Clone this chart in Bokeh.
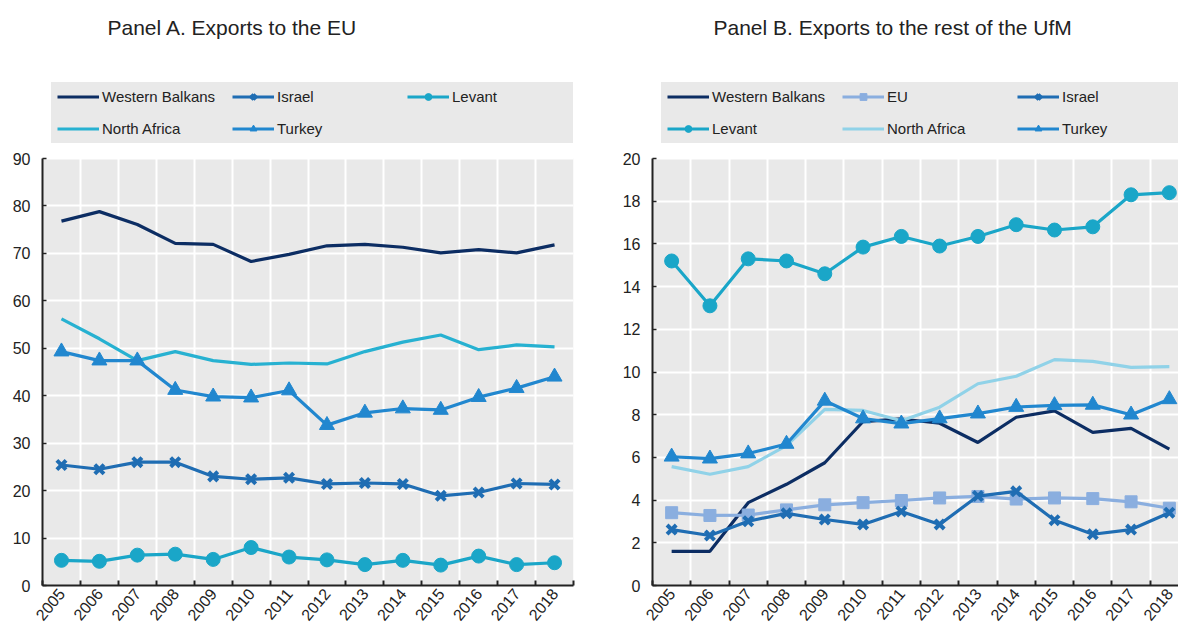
import math
from bokeh.plotting import figure
from bokeh.models import Range1d, FixedTicker, Legend, LegendItem, Label, BoxAnnotation
from bokeh.layouts import row
from bokeh.embed import file_html
from bokeh.resources import INLINE

years = list(range(2005, 2019))
year_labels = [str(y) for y in years]

# Panel A: exports to the EU
a_western_balkans = [76.8, 78.8, 76.1, 72.1, 71.9, 68.3, 69.8, 71.6, 71.9, 71.3, 70.1, 70.8, 70.1, 71.8]
a_israel = [25.4, 24.5, 26.0, 26.0, 23.0, 22.4, 22.7, 21.4, 21.6, 21.4, 18.9, 19.6, 21.5, 21.3]
a_levant = [5.3, 5.1, 6.4, 6.6, 5.5, 8.0, 6.0, 5.4, 4.4, 5.3, 4.3, 6.2, 4.4, 4.8]
a_north_africa = [56.2, 52.0, 47.4, 49.3, 47.4, 46.6, 46.9, 46.7, 49.3, 51.3, 52.8, 49.7, 50.7, 50.3]
a_turkey = [49.3, 47.4, 47.4, 41.2, 39.8, 39.6, 41.1, 33.8, 36.4, 37.3, 37.0, 39.7, 41.6, 44.0]

# Panel B: exports to the rest of the UfM
b_western_balkans = [1.6, 1.6, 3.88, 4.74, 5.75, 7.68, 7.8, 7.6, 6.7, 7.88, 8.18, 7.17, 7.36, 6.39]
b_eu = [3.41, 3.28, 3.3, 3.54, 3.78, 3.88, 3.98, 4.1, 4.17, 4.05, 4.1, 4.07, 3.92, 3.62]
b_israel = [2.62, 2.34, 3.01, 3.38, 3.09, 2.86, 3.47, 2.86, 4.19, 4.41, 3.06, 2.4, 2.62, 3.41]
b_levant = [15.2, 13.1, 15.3, 15.2, 14.6, 15.85, 16.35, 15.9, 16.35, 16.9, 16.65, 16.8, 18.3, 18.4]
b_north_africa = [5.57, 5.21, 5.57, 6.55, 8.25, 8.2, 7.72, 8.35, 9.45, 9.8, 10.58, 10.5, 10.22, 10.25]
b_turkey = [6.03, 5.94, 6.18, 6.63, 8.65, 7.82, 7.58, 7.82, 8.05, 8.36, 8.44, 8.46, 8.0, 8.72]

a_yticks = list(range(0, 91, 10))
b_yticks = list(range(0, 21, 2))

FONT = "Liberation Sans"
TXT = "#222222"
BG = "#e9e9e9"

C_WB = "#0c2d63"
C_ISRAEL = "#1f6db3"
C_LEVANT = "#1aa6c8"
C_NA_A = "#27b1d1"
C_TURKEY = "#2187cf"
C_EU = "#8aaedf"
C_NA_B = "#90d2e8"

FRAME_H = 585      # frame spans the whole upper area (title + legend + plot)
PLOT_H = 427       # height of the data area (0 .. ymax)


def make_panel(title, series, ymax, yticks, frame_width, x_end, border_left, border_right, title_x):
    y_end = ymax * FRAME_H / PLOT_H
    p = figure(frame_width=frame_width, frame_height=FRAME_H,
               min_border_left=border_left, min_border_right=border_right,
               min_border_top=0, min_border_bottom=43,
               x_range=Range1d(2004.5, x_end), y_range=Range1d(0, y_end),
               output_backend="svg", toolbar_location=None)
    p.background_fill_color = "white"
    p.border_fill_color = "white"
    p.outline_line_color = None

    # grey data area (0 .. ymax), drawn beneath the grid
    p.add_layout(BoxAnnotation(bottom=0, top=ymax, fill_color=BG, fill_alpha=1.0,
                               line_color=None, level="image"))

    half = [2004.5 + i for i in range(15)]
    p.xaxis.ticker = FixedTicker(ticks=years, minor_ticks=half)
    p.xaxis.major_label_overrides = {y: s for y, s in zip(years, year_labels)}
    p.xaxis.major_tick_in = 0
    p.xaxis.major_tick_out = 0
    p.xaxis.minor_tick_in = 5
    p.xaxis.minor_tick_out = 0
    p.xaxis.minor_tick_line_color = TXT
    p.xaxis.minor_tick_line_width = 2
    p.xaxis.major_label_orientation = math.radians(50)
    p.xaxis.major_label_standoff = 5

    p.yaxis.ticker = FixedTicker(ticks=yticks)
    p.yaxis.bounds = (0, ymax)
    p.yaxis.major_tick_in = 4
    p.yaxis.major_tick_out = 0
    p.yaxis.minor_tick_line_color = None
    p.yaxis.major_label_standoff = 12
    p.yaxis.major_tick_line_color = TXT
    p.yaxis.major_tick_line_width = 1.5

    for ax in (p.xaxis, p.yaxis):
        ax.axis_line_color = TXT
        ax.axis_line_width = 2
        ax.major_label_text_font = FONT
        ax.major_label_text_font_size = "16px"
        ax.major_label_text_color = TXT

    p.xgrid.ticker = FixedTicker(ticks=half)
    p.xgrid.grid_line_color = "white"
    p.xgrid.grid_line_width = 2
    p.ygrid.grid_line_color = "white"
    p.ygrid.grid_line_width = 2

    items = []
    for name, vals, color, marker, msize in series:
        rs = [p.line(years, vals, line_color=color, line_width=3.2)]
        if marker is not None:
            if marker == "x":
                rs.append(p.scatter(years, vals, marker="x", size=msize, line_color=color, line_width=4))
            else:
                rs.append(p.scatter(years, vals, marker=marker, size=msize, fill_color=color, line_color=color))
        items.append(LegendItem(label=name, renderers=rs))

    legend = Legend(items=items, location=(9, 442), orientation="horizontal", ncols=3,
                    background_fill_color=BG, background_fill_alpha=1.0,
                    border_line_color=BG, border_line_width=6, border_line_alpha=1.0,
                    glyph_width=42, glyph_height=17, label_width=115, label_height=17,
                    label_standoff=3, spacing=15, padding=0, margin=0,
                    label_text_font=FONT, label_text_font_size="15px", label_text_color=TXT)
    p.add_layout(legend, "center")

    p.add_layout(Label(x=title_x, y=FRAME_H - 27, x_units="screen", y_units="screen", text=title,
                       text_align="left", text_baseline="middle", text_font=FONT,
                       text_font_size="21px", text_color=TXT))
    return p


series_a = [
    ("Western Balkans", a_western_balkans, C_WB, None, 0),
    ("Israel", a_israel, C_ISRAEL, "x", 13),
    ("Levant", a_levant, C_LEVANT, "circle", 14),
    ("North Africa", a_north_africa, C_NA_A, None, 0),
    ("Turkey", a_turkey, C_TURKEY, "triangle", 15),
]
series_b = [
    ("Western Balkans", b_western_balkans, C_WB, None, 0),
    ("EU", b_eu, C_EU, "square", 12),
    ("Israel", b_israel, C_ISRAEL, "x", 13),
    ("Levant", b_levant, C_LEVANT, "circle", 14),
    ("North Africa", b_north_africa, C_NA_B, None, 0),
    ("Turkey", b_turkey, C_TURKEY, "triangle", 15),
]

pa = make_panel("Panel A. Exports to the EU", series_a, 90, a_yticks, 531, 2018.5, 42, 35, 65)
pb = make_panel("Panel B. Exports to the rest of the UfM", series_b, 20, b_yticks, 526,
                2018.5 - 10 / 38.3, 44, 0, 61)

layout = row(pa, pb)
open("out.html", "w").write(file_html(layout, INLINE))
